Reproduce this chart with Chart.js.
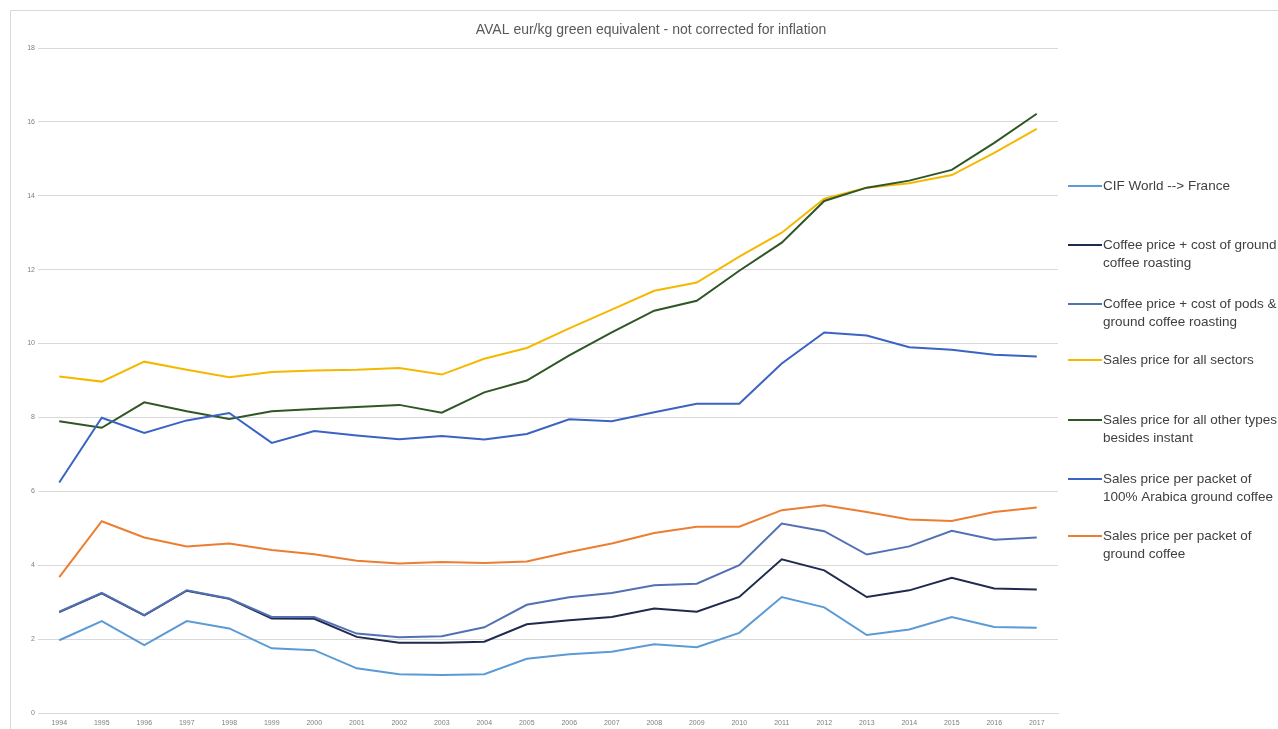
<!DOCTYPE html>
<html>
<head>
<meta charset="utf-8">
<script src="https://cdn.jsdelivr.net/npm/chart.js@4/dist/chart.umd.min.js"></script>
<style>
html,body{margin:0;padding:0;background:#fff;}
#wrap{width:1278px;height:729px;position:relative;}
</style>
</head>
<body>
<div id="wrap"><canvas id="c" width="1278" height="729"></canvas></div>
<script>
const years = ["1994","1995","1996","1997","1998","1999","2000","2001","2002","2003","2004","2005","2006","2007","2008","2009","2010","2011","2012","2013","2014","2015","2016","2017"];
const yTicks = [0,2,4,6,8,10,12,14,16,18];
const titleText = "AVAL eur/kg green equivalent - not corrected for inflation";

const cifWorldFrance = [1.97,2.49,1.84,2.49,2.29,1.75,1.70,1.21,1.05,1.03,1.05,1.47,1.59,1.66,1.86,1.78,2.17,3.14,2.86,2.11,2.26,2.60,2.33,2.31];
const groundRoasting = [2.73,3.24,2.64,3.31,3.09,2.56,2.55,2.06,1.90,1.90,1.93,2.40,2.51,2.60,2.83,2.74,3.14,4.16,3.86,3.14,3.32,3.66,3.37,3.34];
const podsGroundRoasting = [2.74,3.25,2.65,3.32,3.10,2.60,2.60,2.15,2.05,2.08,2.32,2.93,3.13,3.25,3.46,3.50,4.00,5.13,4.92,4.29,4.51,4.93,4.69,4.75];
const salesAllSectors = [9.11,8.97,9.51,9.29,9.09,9.23,9.27,9.29,9.34,9.16,9.59,9.88,10.41,10.92,11.43,11.65,12.35,13.00,13.92,14.22,14.34,14.56,15.16,15.81];
const salesOtherTypes = [7.90,7.72,8.41,8.17,7.96,8.17,8.23,8.28,8.34,8.13,8.68,9.00,9.68,10.30,10.89,11.16,11.97,12.73,13.86,14.22,14.41,14.70,15.43,16.22];
const salesArabica = [6.24,7.99,7.58,7.92,8.12,7.31,7.63,7.51,7.41,7.50,7.40,7.55,7.95,7.90,8.14,8.37,8.37,9.46,10.30,10.22,9.90,9.83,9.70,9.65];
const salesGroundPacket = [3.68,5.19,4.75,4.51,4.59,4.41,4.30,4.12,4.05,4.09,4.06,4.10,4.36,4.59,4.87,5.04,5.04,5.49,5.62,5.44,5.24,5.20,5.44,5.56];

const seriesNames = [
  ["CIF World --> France"],
  ["Coffee price + cost of ground","coffee roasting"],
  ["Coffee price + cost of pods &","ground coffee roasting"],
  ["Sales price for all sectors"],
  ["Sales price for all other types","besides instant"],
  ["Sales price per packet of","100% Arabica ground coffee"],
  ["Sales price per packet of","ground coffee"]
];
const seriesData = [cifWorldFrance, groundRoasting, podsGroundRoasting, salesAllSectors, salesOtherTypes, salesArabica, salesGroundPacket];
const colors = ["#5B9BD5","#1F2B4E","#5271B4","#F5B800","#2F5726","#3A63C4","#ED7D31"];
const legendY = [186,245,304,360,420,479,536];

const decor = {
  id:'decor',
  beforeDraw(chart){
    const ctx = chart.ctx;
    ctx.save();
    ctx.strokeStyle = '#d9d9d9';
    ctx.lineWidth = 1;
    ctx.beginPath();
    ctx.moveTo(10.5, 729);
    ctx.lineTo(10.5, 10.5);
    ctx.lineTo(1278, 10.5);
    ctx.stroke();
    ctx.restore();
  },
  afterDraw(chart){
    const ctx = chart.ctx;
    ctx.save();
    ctx.fillStyle = '#595959';
    ctx.font = '14px "Liberation Sans", Arial, sans-serif';
    ctx.textAlign = 'center';
    ctx.textBaseline = 'middle';
    ctx.fillText(titleText, 651, 30);
    ctx.textAlign = 'left';
    ctx.font = '13.5px "Liberation Sans", Arial, sans-serif';
    ctx.fillStyle = '#404040';
    seriesNames.forEach((lines, i) => {
      const y = legendY[i];
      ctx.strokeStyle = colors[i];
      ctx.lineWidth = 2;
      ctx.beginPath();
      ctx.moveTo(1068, y);
      ctx.lineTo(1102, y);
      ctx.stroke();
      lines.forEach((t, j) => ctx.fillText(t, 1103, y + j*18.5));
    });
    ctx.restore();
  }
};

new Chart(document.getElementById('c'), {
  type: 'line',
  data: {
    labels: years,
    datasets: seriesData.map((d, i) => ({
      label: seriesNames[i].join(' '),
      data: d,
      borderColor: colors[i],
      backgroundColor: colors[i],
      borderWidth: 2,
      pointRadius: 0,
      tension: 0,
      order: 7 - i
    }))
  },
  options: {
    responsive: false,
    animation: false,
    events: [],
    layout: { padding: { top: 48, left: 10, right: 220, bottom: 0 } },
    plugins: { legend: { display: false }, title: { display: false }, tooltip: { enabled: false } },
    scales: {
      x: {
        offset: true,
        grid: { display: false, drawTicks: false },
        border: { display: true, color: '#d9d9d9', width: 1 },
        ticks: { color: '#808080', font: { size: 7, family: '"Liberation Sans", Arial, sans-serif' }, padding: 6, maxRotation: 0, autoSkip: false },
        afterFit(s){ s.height = 16; }
      },
      y: {
        min: 0, max: 18,
        afterBuildTicks(s){ s.ticks = yTicks.map(v => ({ value: v })); },
        grid: { color: '#d9d9d9', drawTicks: false },
        border: { display: false },
        ticks: { color: '#808080', font: { size: 7, family: '"Liberation Sans", Arial, sans-serif' }, padding: 3 },
        afterFit(s){ s.width = 28; }
      }
    }
  },
  plugins: [decor]
});
</script>
</body>
</html>
